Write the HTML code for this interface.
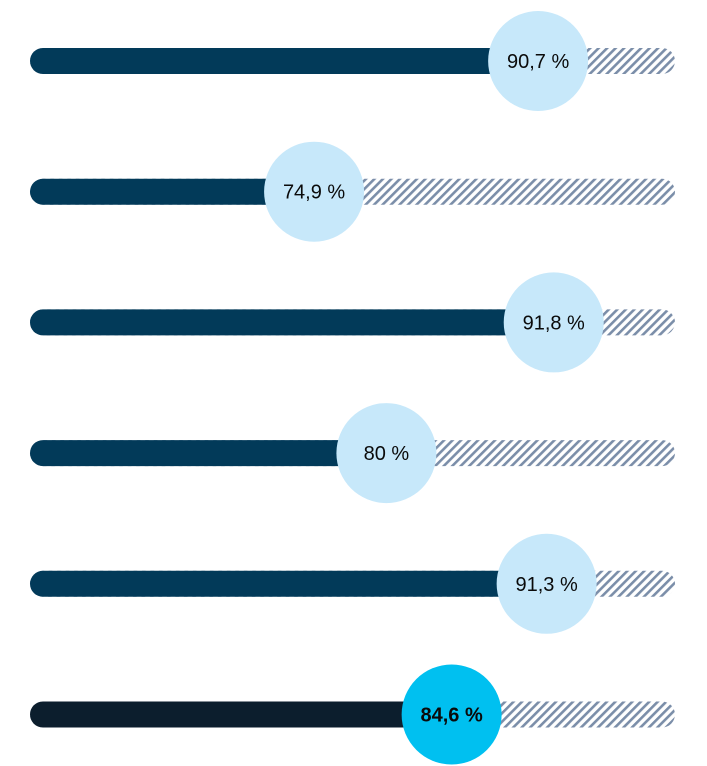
<!DOCTYPE html>
<html><head><meta charset="utf-8"><style>
body{margin:0;background:#fff;}
svg{display:block;font-family:"Liberation Sans","DejaVu Sans",sans-serif;}
</style></head><body>
<svg id="chart" width="707" height="766" viewBox="0 0 707 766">
<defs>
<pattern id="hatch" patternUnits="userSpaceOnUse" width="6" height="6" patternTransform="rotate(45)">
<rect width="6" height="6" fill="#fff"/>
<rect width="2.6" height="6" fill="#7b8ea9"/>
</pattern>
</defs>
</svg>
<script>
const values = [90.7, 74.9, 91.8, 80, 91.3, 84.6];
const labels = ["90,7 %", "74,9 %", "91,8 %", "80 %", "91,3 %", "84,6 %"];
const highlight = [false, false, false, false, false, true];
const svg = document.getElementById('chart');
const NS = 'http://www.w3.org/2000/svg';
const x = v => -748 + 14.18 * v;
const rowY = i => 61 + i * 130.7;
const barL = 30, barR = 675, h = 26;
values.forEach((v, i) => {
  const cy = rowY(i), cx = x(v);
  const g = document.createElementNS(NS, 'g');
  
  
  const bg = document.createElementNS(NS, 'rect');
  
  
  bg.setAttribute('x', barL); bg.setAttribute('y', cy - h / 2);
  bg.setAttribute('width', barR - barL); bg.setAttribute('height', h);
  bg.setAttribute('rx', h / 2); bg.setAttribute('fill', 'url(#hatch)');
  g.appendChild(bg);
  const fg = document.createElementNS(NS, 'rect');
  
  
  fg.setAttribute('x', barL); fg.setAttribute('y', cy - h / 2);
  fg.setAttribute('width', cx - barL); fg.setAttribute('height', h);
  fg.setAttribute('rx', h / 2); fg.setAttribute('fill', highlight[i] ? '#0c1e2d' : '#023a59');
  g.appendChild(fg);
  const c = document.createElementNS(NS, 'circle');
  
  
  c.setAttribute('cx', cx); c.setAttribute('cy', cy); c.setAttribute('r', 50);
  c.setAttribute('fill', highlight[i] ? '#00c0f0' : '#c7e8fa');
  g.appendChild(c);
  const t = document.createElementNS(NS, 'text');
  
  
  t.setAttribute('x', cx); t.setAttribute('y', cy + 7);
  t.setAttribute('text-anchor', 'middle');
  t.setAttribute('font-size', '20');
  t.setAttribute('fill', '#0a0a0a');
  if (highlight[i]) t.setAttribute('font-weight', 'bold');
  t.textContent = labels[i];
  g.appendChild(t);
  svg.appendChild(g);
});
</script>
</body></html>
